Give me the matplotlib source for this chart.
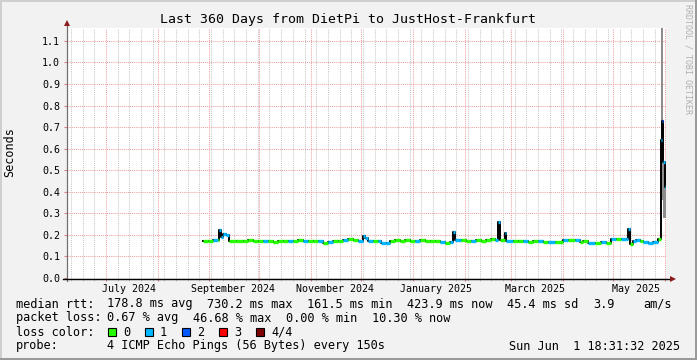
import pandas as pd
import matplotlib
matplotlib.use('Agg')
import matplotlib.pyplot as plt
from matplotlib.patches import Rectangle

# ------------------------
# Data
# ------------------------
med_dates = ['2024-08-28', '2024-08-31', '2024-09-03', '2024-09-06', '2024-09-07',
             '2024-09-08', '2024-09-09', '2024-09-11', '2024-09-13', '2024-09-17',
             '2024-09-21', '2024-09-24', '2024-09-27', '2024-09-30', '2024-10-03',
             '2024-10-06', '2024-10-09', '2024-10-12', '2024-10-15', '2024-10-18',
             '2024-10-21', '2024-10-24', '2024-10-27', '2024-10-30', '2024-11-02',
             '2024-11-05', '2024-11-08', '2024-11-11', '2024-11-14', '2024-11-17',
             '2024-11-20', '2024-11-23', '2024-11-26', '2024-11-29', '2024-12-02',
             '2024-12-03', '2024-12-05', '2024-12-08', '2024-12-11', '2024-12-13',
             '2024-12-16', '2024-12-18', '2024-12-21', '2024-12-24', '2024-12-27',
             '2024-12-30', '2025-01-02', '2025-01-05', '2025-01-08', '2025-01-11',
             '2025-01-14', '2025-01-17', '2025-01-20', '2025-01-23', '2025-01-25',
             '2025-01-26', '2025-01-30', '2025-02-02', '2025-02-05', '2025-02-08',
             '2025-02-11', '2025-02-14', '2025-02-17', '2025-02-19', '2025-02-21',
             '2025-02-22', '2025-02-25', '2025-02-26', '2025-03-02', '2025-03-05',
             '2025-03-08', '2025-03-11', '2025-03-14', '2025-03-17', '2025-03-20',
             '2025-03-23', '2025-03-27', '2025-04-01', '2025-04-04', '2025-04-08',
             '2025-04-11', '2025-04-13', '2025-04-16', '2025-04-20', '2025-04-24',
             '2025-04-27', '2025-04-30', '2025-05-03', '2025-05-06', '2025-05-09',
             '2025-05-10', '2025-05-11', '2025-05-13', '2025-05-15', '2025-05-17',
             '2025-05-19', '2025-05-22', '2025-05-25', '2025-05-28', '2025-05-29 16:00',
             '2025-05-30 12:00', '2025-05-31 06:00', '2025-06-01 00:00']
med_rtt = [0.171, 0.173, 0.175, 0.175, 0.225,
           0.190, 0.205, 0.200, 0.173, 0.173,
           0.174, 0.176, 0.172, 0.171, 0.173,
           0.172, 0.167, 0.172, 0.171, 0.173,
           0.172, 0.177, 0.173, 0.171, 0.172,
           0.170, 0.164, 0.166, 0.172, 0.173,
           0.176, 0.180, 0.176, 0.174, 0.194,
           0.184, 0.173, 0.172, 0.170, 0.161,
           0.162, 0.174, 0.176, 0.174, 0.175,
           0.174, 0.172, 0.175, 0.172, 0.170,
           0.173, 0.165, 0.162, 0.168, 0.215,
           0.177, 0.176, 0.174, 0.172, 0.175,
           0.173, 0.178, 0.182, 0.176, 0.258,
           0.178, 0.211, 0.172, 0.174, 0.172,
           0.174, 0.168, 0.172, 0.170, 0.165,
           0.168, 0.165, 0.178, 0.178, 0.177,
           0.166, 0.172, 0.164, 0.164, 0.165,
           0.164, 0.180, 0.179, 0.179, 0.180,
           0.227, 0.160, 0.172, 0.178, 0.170,
           0.167, 0.164, 0.165, 0.180, 0.640,
           0.730, 0.540, 0.420]
med_loss = [0, 0, 1, 0, 1,
            1, 1, 1, 0, 0,
            0, 0, 0, 0, 1,
            0, 0, 0, 0, 1,
            0, 0, 1, 0, 0,
            1, 0, 1, 0, 0,
            1, 0, 0, 1, 1,
            1, 1, 0, 1, 1,
            1, 0, 0, 0, 0,
            0, 1, 0, 0, 0,
            0, 1, 0, 1, 1,
            1, 0, 0, 1, 0,
            0, 0, 0, 1, 1,
            0, 1, 1, 0, 0,
            1, 0, 0, 1, 0,
            1, 0, 1, 0, 1,
            0, 0, 1, 0, 1,
            0, 1, 0, 1, 1,
            1, 0, 1, 1, 0,
            1, 1, 1, 0, 1,
            2, 1, 1]

smoke_dates = ['2025-05-30 00:00', '2025-05-31 06:00', '2025-06-01 18:31']
smoke_lo = [0.36, 0.28, 0.28]
smoke_hi = [1.20, 0.54, 0.54]

loss_colors = ['#26ff00', '#00b8ff', '#0059ff', '#ff0000', '#7e0000']
loss_names = ['0', '1', '2', '3', '4/4']

label_dates = ['2024-07-15', '2024-09-15', '2024-11-15', '2025-01-15', '2025-03-15', '2025-05-15']
label_texts = ['July 2024', 'September 2024', 'November 2024', 'January 2025', 'March 2025', 'May 2025']

x_start = pd.Timestamp('2024-06-07 14:00')
x_end = pd.Timestamp('2025-06-01 18:31')

# ------------------------
# Figure
# ------------------------
W, H = 697, 360
plt.rcParams['font.family'] = 'DejaVu Sans Mono'
fig = plt.figure(figsize=(W / 100, H / 100), dpi=100, facecolor='#f2f2f2')

ax = fig.add_axes([67 / W, (H - 278) / H, 599 / W, 250 / H])
ax.set_facecolor('white')
for s in ax.spines.values():
    s.set_visible(False)

dates = pd.to_datetime(med_dates, format='ISO8601')
ax.set_xlim(x_start, x_end)
ax.set_ylim(0, 1.16)

# grid: months red, weeks grey
ax.set_xticks(pd.date_range('2024-07-01', '2025-06-01', freq='MS'))
ax.set_xticks(pd.date_range('2024-06-10', '2025-06-01', freq='W-MON'), minor=True)
ax.set_xticklabels([])
ax.set_yticks([i / 10 for i in range(12)])
ax.set_yticklabels(['%.1f' % (i / 10) for i in range(12)], fontsize=7.2)
ax.xaxis.grid(True, which='minor', color='#c8c8c8', lw=0.75, ls=(0, (1, 1)))
ax.xaxis.grid(True, which='major', color='#f0a0a0', lw=0.75, ls=(0, (1, 1)))
ax.yaxis.grid(True, which='major', color='#f0a0a0', lw=0.75, ls=(0, (1, 1)))
ax.tick_params(axis='y', length=2, color='#e08080', pad=3)
ax.tick_params(axis='x', which='both', length=2, color='#e08080')
ax.tick_params(axis='x', which='minor', color='#c0c0c0')

# smoke
ax.fill_between(pd.to_datetime(smoke_dates), smoke_lo, smoke_hi, step='post',
                color='#8c8c8c', lw=0, zorder=3)

# median: black steps with loss coloured segments
ends = list(dates[1:]) + [x_end]
ax.step(list(dates) + [x_end], med_rtt + [med_rtt[-1]], where='post',
        color='black', lw=1.4, zorder=4)
ax.hlines(med_rtt, dates, ends, colors=[loss_colors[l] for l in med_loss],
          lw=2.4, zorder=5)

# ------------------------
# Decoration in pixel coordinates
# ------------------------
deco = fig.add_axes([0, 0, 1, 1], facecolor='none')
deco.set_xlim(0, W)
deco.set_ylim(H, 0)
deco.axis('off')

# frame
deco.add_patch(Rectangle((0, 0), W, 2, color='#cfcfcf', lw=0))
deco.add_patch(Rectangle((0, 0), 2, H, color='#cfcfcf', lw=0))
deco.add_patch(Rectangle((W - 2, 0), 2, H, color='#9a9a9a', lw=0))
deco.add_patch(Rectangle((0, H - 2), W, 2, color='#9a9a9a', lw=0))

# axes with arrows
deco.plot([67, 67], [281, 24], color='#707070', lw=0.9)
deco.plot([63, 671], [278.5, 278.5], color='black', lw=1.0)
deco.plot([67], [23], marker='^', ms=4.5, color='#8b1a1a', mew=0)
deco.plot([673], [278.5], marker='>', ms=4.5, color='#8b1a1a', mew=0)

# x tick labels, centred in their month
for d, t in zip(label_dates, label_texts):
    xp = 67 + (pd.Timestamp(d) - x_start) / (x_end - x_start) * 599
    deco.text(xp, 289, t, ha='center', va='center', fontsize=7.2)

deco.text(347.5, 19, 'Last 360 Days from DietPi to JustHost-Frankfurt',
          ha='center', va='center', fontsize=9.5)
deco.text(10, 152, 'Seconds', rotation=90, ha='center', va='center', fontsize=8.5)
deco.text(688, 4, 'RRDTOOL / TOBI OETIKER', rotation=270, ha='center', va='top',
          fontsize=6, color='#b0b0b0')

fs = 8.55
row1 = [(16, 'median rtt:'), (107.3, '178.8 ms avg'), (207, '730.2 ms max'),
        (307, '161.5 ms min'), (407, '423.9 ms now'), (507, '45.4 ms sd'),
        (593, '3.9'), (643, 'am/s')]
row2 = [(16, 'packet loss:'), (107.3, '0.67 % avg'), (193, '46.68 % max'),
        (286, '0.00 % min'), (372.5, '10.30 % now')]
for xp, t in row1:
    deco.text(xp, 304, t, ha='left', va='center', fontsize=fs)
for xp, t in row2:
    deco.text(xp, 318, t, ha='left', va='center', fontsize=fs)

deco.text(16, 332, 'loss color:', ha='left', va='center', fontsize=fs)
box_x = [108.3, 145, 181.7, 219, 256]
for bx, c, n in zip(box_x, loss_colors, loss_names):
    deco.add_patch(Rectangle((bx, 328), 8, 8, facecolor=c, edgecolor='black', lw=0.8))
    deco.text(bx + 15, 332, n, ha='left', va='center', fontsize=fs)

deco.text(16, 346, 'probe:', ha='left', va='center', fontsize=fs)
deco.text(107.3, 346, '4 ICMP Echo Pings (56 Bytes) every 150s', ha='left',
          va='center', fontsize=fs)
deco.text(680, 346, 'Sun Jun  1 18:31:32 2025', ha='right', va='center', fontsize=fs)

fig.savefig('out.png', dpi=100, facecolor=fig.get_facecolor())
